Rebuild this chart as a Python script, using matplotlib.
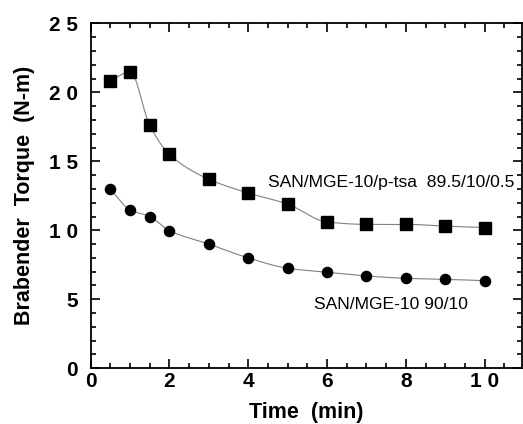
import numpy as np
import matplotlib
matplotlib.use("Agg")
import matplotlib.pyplot as plt
from matplotlib.ticker import FixedLocator, FixedFormatter, MultipleLocator

plt.rcParams['font.family'] = ['Liberation Sans', 'DejaVu Sans']

# data
time_min = [0.5, 1, 1.5, 2, 3, 4, 5, 6, 7, 8, 9, 10]
torque_ptsa = [20.8, 21.5, 17.6, 15.5, 13.7, 12.7, 11.9, 10.6, 10.43, 10.43, 10.3, 10.2]
torque_plain = [13.0, 11.47, 11.0, 9.97, 9.0, 8.0, 7.25, 6.96, 6.69, 6.52, 6.45, 6.35]

label_ptsa = "SAN/MGE-10/p-tsa  89.5/10/0.5"
label_plain = "SAN/MGE-10 90/10"

y_ticks = [0, 5, 10, 15, 20, 25]
y_ticklabels = ['0', '5', '1 0', '1 5', '2 0', '2 5']
x_ticks = [0, 2, 4, 6, 8, 10]
x_ticklabels = ['0', '2', '4', '6', '8', '1 0']


def pchip(x, y, xn):
    # monotone cubic (Fritsch-Carlson) for the smooth connecting curve
    x = np.asarray(x, float)
    y = np.asarray(y, float)
    h = np.diff(x)
    d = np.diff(y) / h
    m = np.zeros_like(y)
    for k in range(1, len(x) - 1):
        if d[k - 1] * d[k] > 0:
            w1 = 2 * h[k] + h[k - 1]
            w2 = h[k] + 2 * h[k - 1]
            m[k] = (w1 + w2) / (w1 / d[k - 1] + w2 / d[k])
    m[0] = d[0]
    m[-1] = d[-1]
    idx = np.clip(np.searchsorted(x, xn) - 1, 0, len(x) - 2)
    t = (xn - x[idx]) / h[idx]
    h00 = 2 * t**3 - 3 * t**2 + 1
    h10 = t**3 - 2 * t**2 + t
    h01 = -2 * t**3 + 3 * t**2
    h11 = t**3 - t**2
    return (h00 * y[idx] + h10 * h[idx] * m[idx]
            + h01 * y[idx + 1] + h11 * h[idx] * m[idx + 1])


fig = plt.figure(figsize=(5.23, 4.24), dpi=100)
ax = fig.add_axes([0.1734, 0.1314, 0.8241, 0.8136])

xs = np.linspace(time_min[0], time_min[-1], 400)
for vals, marker, ms in [(torque_ptsa, 's', 8), (torque_plain, 'o', 7.3)]:
    ax.plot(xs, pchip(time_min, vals, xs), color='#808080', lw=0.8)
    ax.plot(time_min, vals, linestyle='none', marker=marker, ms=ms,
            color='black')

ax.text(4.5, 13.5, label_ptsa, fontsize=12.6, va='center', ha='left')
ax.text(5.67, 4.6, label_plain, fontsize=12.6, va='center', ha='left')

ax.set_xlim(0, 10.94)
ax.set_ylim(0, 25)

ax.xaxis.set_major_locator(FixedLocator(x_ticks))
ax.xaxis.set_major_formatter(FixedFormatter(x_ticklabels))
ax.xaxis.set_minor_locator(MultipleLocator(0.5))
ax.yaxis.set_major_locator(FixedLocator(y_ticks))
ax.yaxis.set_major_formatter(FixedFormatter(y_ticklabels))
ax.yaxis.set_minor_locator(MultipleLocator(1))

ax.tick_params(which='both', direction='in', top=True, right=True,
               width=1.2, labelsize=15)
ax.tick_params(which='major', length=6.5)
ax.tick_params(which='minor', length=3.5)
ax.tick_params(axis='x', pad=3)
ax.tick_params(axis='y', pad=9)
for lab in ax.get_xticklabels() + ax.get_yticklabels():
    lab.set_fontweight('bold')
for sp in ax.spines.values():
    sp.set_linewidth(1.3)

ax.set_xlabel("Time  (min)", fontsize=15.5, fontweight='bold', labelpad=7.5)
ax.set_ylabel("Brabender  Torque  (N-m)", fontsize=15.5, fontweight='bold',
              labelpad=10)

fig.savefig("out.png", dpi=100)
